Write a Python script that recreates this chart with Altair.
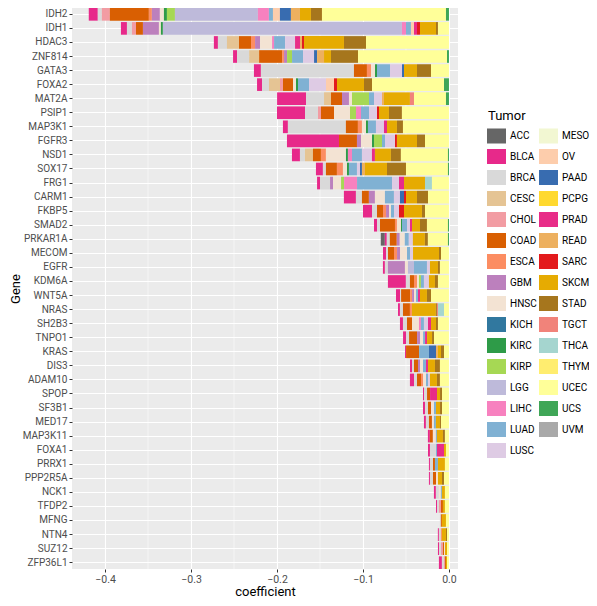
import altair as alt
import pandas as pd

# Tumor types (alphabetical = stacking order, ACC farthest from zero)
tumors = ["ACC", "BLCA", "BRCA", "CESC", "CHOL", "COAD", "ESCA", "GBM", "HNSC", "KICH",
          "KIRC", "KIRP", "LGG", "LIHC", "LUAD", "LUSC", "MESO", "OV", "PAAD", "PCPG",
          "PRAD", "READ", "SARC", "SKCM", "STAD", "TGCT", "THCA", "THYM", "UCEC", "UCS", "UVM"]
tumor_colors = ["#666666", "#E7298A", "#D9D9D9", "#E5C494", "#F29CA3", "#D95F02", "#FC8D62",
                "#BC80BD", "#F3E3D3", "#31789F", "#2E9B48", "#A6D854", "#BEBADA", "#F781BF",
                "#80B1D3", "#DECBE4", "#F2F7D2", "#FDCDAC", "#386CB0", "#FFD92F", "#E82C88",
                "#EDB05F", "#E31A1C", "#E6AB02", "#A6761D", "#F1837A", "#A5D5CF", "#FFED6F",
                "#FFFF99", "#3FA657", "#A9A9A9"]

genes = ["IDH2", "IDH1", "HDAC3", "ZNF814", "GATA3", "FOXA2", "MAT2A", "PSIP1", "MAP3K1",
         "FGFR3", "NSD1", "SOX17", "FRG1", "CARM1", "FKBP5", "SMAD2", "PRKAR1A", "MECOM",
         "EGFR", "KDM6A", "WNT5A", "NRAS", "SH2B3", "TNPO1", "KRAS", "DIS3", "ADAM10", "SPOP",
         "SF3B1", "MED17", "MAP3K11", "FOXA1", "PRRX1", "PPP2R5A", "NCK1", "TFDP2", "MFNG",
         "NTN4", "SUZ12", "ZFP36L1"]

# coefficient contributions per gene, in units of 0.001
IDH2 = [("BLCA", -10.5), ("BRCA", -4.7), ("CHOL", -9.3), ("COAD", -45.4), ("ESCA", -3.5),
        ("GBM", -9.3), ("HNSC", -4.7), ("KIRC", -3.5), ("KIRP", -9.3), ("LGG", -96.5),
        ("LIHC", -12.8), ("LUAD", -4.7), ("OV", -8.1), ("PAAD", -12.8), ("READ", -10.5),
        ("SKCM", -12.8), ("STAD", -12.8), ("UCEC", -144.2), ("UCS", -3.5)]
IDH1 = [("BLCA", -7.0), ("BRCA", -5.8), ("CHOL", -4.7), ("COAD", -8.1), ("GBM", -18.6),
        ("HNSC", -2.3), ("KIRC", -2.3), ("LGG", -278.0), ("LIHC", -4.7), ("LUAD", -5.8),
        ("OV", -3.5), ("PRAD", -3.5), ("SARC", -3.5), ("SKCM", -18.6), ("STAD", -2.3),
        ("UCEC", -12.8)]
HDAC3 = [("BLCA", -4.7), ("BRCA", -10.5), ("CESC", -14.0), ("COAD", -14.0), ("ESCA", -4.7),
         ("GBM", -5.8), ("HNSC", -14.0), ("LIHC", -2.3), ("LUAD", -12.8), ("LUSC", -11.6),
         ("PRAD", -5.8), ("READ", -2.3), ("SARC", -2.3), ("SKCM", -46.5), ("STAD", -25.6),
         ("UCEC", -96.5)]
ZNF814 = [("BLCA", -4.7), ("BRCA", -14.0), ("CESC", -11.6), ("COAD", -26.7), ("ESCA", -2.3),
          ("GBM", -3.5), ("KIRP", -5.8), ("LUAD", -12.8), ("LUSC", -12.8), ("PAAD", -3.5),
          ("READ", -8.1), ("SKCM", -8.1), ("STAD", -31.4), ("UCEC", -103.5), ("UCS", -2.3)]
GATA3 = [("BLCA", -8.1), ("BRCA", -108.2), ("COAD", -15.1), ("ESCA", -4.7), ("HNSC", -4.7),
         ("KIRC", -2.3), ("LUAD", -15.1), ("LUSC", -14.0), ("PAAD", -2.3), ("SKCM", -15.1),
         ("STAD", -16.3), ("UCEC", -20.9)]
FOXA2 = [("BLCA", -5.8), ("BRCA", -8.1), ("CESC", -12.8), ("CHOL", -3.5), ("COAD", -11.6),
         ("HNSC", -3.5), ("KIRC", -2.3), ("LUAD", -12.8), ("LUSC", -19.8), ("OV", -9.3),
         ("SARC", -3.5), ("SKCM", -31.4), ("STAD", -9.3), ("UCEC", -83.7), ("UCS", -5.8)]
MAT2A = [("BLCA", -33.7), ("BRCA", -20.9), ("CESC", -8.1), ("COAD", -12.8), ("GBM", -8.1),
         ("HNSC", -3.5), ("KIRP", -19.8), ("LUAD", -5.8), ("LUSC", -9.3), ("READ", -2.3),
         ("SKCM", -30.2), ("TGCT", -4.7), ("UCEC", -37.2), ("UCS", -3.5)]
PSIP1 = [("BLCA", -32.6), ("BRCA", -15.1), ("CHOL", -3.5), ("COAD", -15.1), ("HNSC", -18.6),
         ("KIRP", -7.0), ("LIHC", -5.8), ("LUAD", -9.3), ("LUSC", -9.3), ("SARC", -2.3),
         ("SKCM", -11.6), ("STAD", -15.1), ("UCEC", -54.7)]
MAP3K1 = [("BLCA", -5.8), ("BRCA", -67.4), ("COAD", -14.0), ("ESCA", -4.7), ("HNSC", -4.7),
          ("KIRC", -2.3), ("LUAD", -9.3), ("LUSC", -9.3), ("PRAD", -3.5), ("SKCM", -11.6),
          ("STAD", -7.0), ("UCEC", -53.5)]
FGFR3 = [("BLCA", -60.5), ("COAD", -20.9), ("GBM", -4.7), ("HNSC", -12.8), ("KIRC", -2.3),
         ("KIRP", -9.3), ("LUAD", -3.5), ("LUSC", -11.6), ("SARC", -2.3), ("SKCM", -23.3),
         ("STAD", -9.3), ("UCEC", -27.9)]
NSD1 = [("BLCA", -9.3), ("BRCA", -5.8), ("CESC", -9.3), ("COAD", -9.3), ("ESCA", -5.8),
        ("HNSC", -23.3), ("KIRC", -2.3), ("LIHC", -4.7), ("LUAD", -11.6), ("LUSC", -11.6),
        ("PRAD", -3.5), ("SKCM", -18.6), ("STAD", -11.6), ("UCEC", -54.7), ("UCS", -1.2)]
SOX17 = [("BLCA", -8.1), ("BRCA", -3.5), ("COAD", -12.8), ("ESCA", -7.0), ("HNSC", -4.7),
         ("KIRC", -2.3), ("LUAD", -9.3), ("LUSC", -3.5), ("PAAD", -2.3), ("READ", -3.5),
         ("SKCM", -25.6), ("STAD", -22.1), ("UCEC", -48.8), ("UCS", -1.2)]
FRG1 = [("BLCA", -3.5), ("BRCA", -11.6), ("GBM", -3.5), ("HNSC", -9.3), ("KIRP", -3.5),
        ("LIHC", -15.1), ("LUAD", -40.7), ("LUSC", -8.1), ("PRAD", -5.8), ("SKCM", -24.4),
        ("THCA", -8.1), ("UCEC", -19.8)]
CARM1 = [("BLCA", -14.0), ("BRCA", -7.0), ("COAD", -8.1), ("GBM", -7.0), ("HNSC", -11.6),
         ("LUAD", -10.5), ("LUSC", -7.0), ("PAAD", -4.7), ("SARC", -2.3), ("SKCM", -12.8),
         ("STAD", -12.8), ("UCEC", -24.4)]
FKBP5 = [("BLCA", -10.5), ("BRCA", -5.8), ("COAD", -7.0), ("ESCA", -3.5), ("GBM", -3.5),
         ("HNSC", -2.3), ("LUAD", -3.5), ("LUSC", -5.8), ("SARC", -5.8), ("SKCM", -20.9),
         ("STAD", -3.5), ("UCEC", -27.9)]
SMAD2 = [("BLCA", -3.5), ("BRCA", -3.5), ("COAD", -17.4), ("ESCA", -2.3), ("HNSC", -4.7),
         ("KIRC", -1.2), ("LUAD", -5.8), ("LUSC", -3.5), ("PRAD", -2.3), ("SKCM", -9.3),
         ("STAD", -8.1), ("UCEC", -24.4), ("UCS", -1.2)]
PRKAR1A = [("ACC", -4.7), ("BLCA", -2.3), ("BRCA", -3.5), ("COAD", -8.1), ("GBM", -3.5),
           ("HNSC", -5.8), ("LUAD", -4.7), ("LUSC", -4.7), ("SKCM", -14.0), ("STAD", -3.5),
           ("UCEC", -23.3), ("UCS", -1.2)]
MECOM = [("BLCA", -3.5), ("BRCA", -2.3), ("COAD", -7.0), ("ESCA", -3.5), ("GBM", -3.5),
         ("HNSC", -8.1), ("LUAD", -3.5), ("LUSC", -3.5), ("SKCM", -30.2), ("STAD", -2.3),
         ("UCEC", -9.3)]
EGFR = [("BLCA", -2.3), ("BRCA", -3.5), ("GBM", -19.8), ("HNSC", -3.5), ("LGG", -7.0),
        ("LUAD", -15.1), ("LUSC", -3.5), ("SKCM", -9.3), ("STAD", -2.3), ("UCEC", -10.5)]
KDM6A = [("BLCA", -20.9), ("BRCA", -4.7), ("COAD", -4.7), ("ESCA", -3.5), ("HNSC", -2.3),
         ("KIRP", -2.3), ("LUAD", -3.5), ("LUSC", -5.8), ("SKCM", -7.0), ("STAD", -3.5),
         ("UCEC", -12.8)]
WNT5A = [("BLCA", -4.7), ("BRCA", -1.2), ("COAD", -10.5), ("ESCA", -2.3), ("GBM", -2.3),
         ("HNSC", -2.3), ("LUAD", -2.3), ("PRAD", -2.3), ("SKCM", -8.1), ("STAD", -4.7),
         ("UCEC", -20.9)]
NRAS = [("BLCA", -2.3), ("BRCA", -3.5), ("COAD", -8.1), ("ESCA", -2.3), ("SKCM", -27.9),
        ("STAD", -1.2), ("TGCT", -1.2), ("THCA", -7.0), ("UCEC", -5.8)]
SH2B3 = [("BLCA", -3.5), ("BRCA", -4.7), ("COAD", -5.8), ("HNSC", -8.1), ("LIHC", -2.3),
         ("LUAD", -3.5), ("LUSC", -4.7), ("PRAD", -3.5), ("SKCM", -5.8), ("STAD", -2.3),
         ("UCEC", -12.8)]
TNPO1 = [("BLCA", -3.5), ("BRCA", -3.5), ("COAD", -9.3), ("GBM", -3.5), ("HNSC", -3.5),
         ("LUAD", -2.3), ("PRAD", -2.3), ("SKCM", -5.8), ("STAD", -2.3), ("UCEC", -17.4)]
KRAS = [("BLCA", -1.2), ("COAD", -15.1), ("LUAD", -11.6), ("PAAD", -8.1), ("READ", -2.3),
        ("SKCM", -3.5), ("STAD", -3.5), ("UCEC", -5.8)]
DIS3 = [("BLCA", -2.3), ("BRCA", -2.3), ("COAD", -4.7), ("GBM", -2.3), ("HNSC", -3.5),
        ("LUAD", -3.5), ("PRAD", -2.3), ("SKCM", -8.1), ("STAD", -5.8), ("UCEC", -10.5)]
ADAM10 = [("BLCA", -4.7), ("BRCA", -3.5), ("COAD", -4.7), ("ESCA", -2.3), ("HNSC", -3.5),
          ("LUAD", -2.3), ("LUSC", -2.3), ("SKCM", -8.1), ("STAD", -3.5), ("UCEC", -10.5)]
SPOP = [("BLCA", -1.2), ("BRCA", -3.5), ("COAD", -3.5), ("PRAD", -8.1), ("SKCM", -3.5),
        ("STAD", -2.3), ("UCEC", -8.1)]
SF3B1 = [("BLCA", -2.3), ("BRCA", -3.5), ("COAD", -3.5), ("HNSC", -3.5), ("LUAD", -2.3),
         ("SKCM", -4.7), ("STAD", -2.3), ("UCEC", -8.1)]
MED17 = [("BLCA", -2.3), ("BRCA", -3.5), ("COAD", -3.5), ("HNSC", -2.3), ("LUAD", -2.3),
         ("SKCM", -4.7), ("STAD", -1.2), ("UCEC", -9.3)]
MAP3K11 = [("BLCA", -2.3), ("COAD", -3.5), ("HNSC", -3.5), ("LUAD", -1.2), ("SKCM", -7.0),
           ("STAD", -2.3), ("UCEC", -4.7)]
FOXA1 = [("BLCA", -2.3), ("BRCA", -7.0), ("LUAD", -1.2), ("PRAD", -8.1), ("SKCM", -2.3),
         ("UCEC", -3.5)]
PRRX1 = [("BLCA", -1.2), ("BRCA", -3.5), ("COAD", -2.3), ("LUAD", -3.5), ("SKCM", -8.1),
         ("UCEC", -4.7)]
PPP2R5A = [("BLCA", -1.2), ("BRCA", -3.5), ("COAD", -3.5), ("HNSC", -2.3), ("SKCM", -4.7),
           ("STAD", -2.3), ("UCEC", -5.8)]
NCK1 = [("BLCA", -2.3), ("BRCA", -3.5), ("HNSC", -2.3), ("LUAD", -1.2), ("SKCM", -3.5),
        ("UCEC", -4.7)]
TFDP2 = [("BLCA", -1.2), ("BRCA", -2.3), ("CHOL", -2.3), ("COAD", -2.3), ("SKCM", -2.3),
         ("UCEC", -4.7)]
MFNG = [("BRCA", -1.2), ("COAD", -1.2), ("SKCM", -4.7), ("UCEC", -3.5)]
NTN4 = [("BLCA", -1.2), ("BRCA", -2.3), ("ESCA", -1.2), ("SKCM", -4.7), ("STAD", -1.2),
        ("UCEC", -2.3)]
SUZ12 = [("BLCA", -1.2), ("BRCA", -2.3), ("CHOL", -2.3), ("COAD", -1.2), ("HNSC", -1.2),
         ("SKCM", -2.3), ("UCEC", -2.3)]
ZFP36L1 = [("BLCA", -3.5), ("BRCA", -2.3), ("CHOL", -1.2), ("COAD", -1.2), ("SKCM", -1.2),
           ("UCEC", -2.3)]

gene_parts = [IDH2, IDH1, HDAC3, ZNF814, GATA3, FOXA2, MAT2A, PSIP1, MAP3K1, FGFR3, NSD1,
              SOX17, FRG1, CARM1, FKBP5, SMAD2, PRKAR1A, MECOM, EGFR, KDM6A, WNT5A, NRAS,
              SH2B3, TNPO1, KRAS, DIS3, ADAM10, SPOP, SF3B1, MED17, MAP3K11, FOXA1, PRRX1,
              PPP2R5A, NCK1, TFDP2, MFNG, NTN4, SUZ12, ZFP36L1]

x_ticks = [-0.4, -0.3, -0.2, -0.1, 0.0]
x_minor = [-0.35, -0.25, -0.15, -0.05]

rows = []
for g, parts in zip(genes, gene_parts):
    for t, v in parts:
        rows.append({"gene": g, "tumor": t, "coefficient": v / 1000.0,
                     "rank": tumors.index(t)})
df = pd.DataFrame(rows)

FONT = "Roboto"
XDOM = [-0.4384, 0.0105]

minor = alt.Chart(pd.DataFrame({"m": x_minor})).mark_rule(
    color="white", strokeWidth=0.5
).encode(x=alt.X("m:Q", scale=alt.Scale(domain=XDOM, nice=False, zero=False)))

bars = alt.Chart(df).mark_bar().encode(
    x=alt.X("coefficient:Q", stack="zero",
            scale=alt.Scale(domain=XDOM, nice=False, zero=False),
            axis=alt.Axis(values=x_ticks, format=".1f", title="coefficient", grid=True,
                          gridColor="white", gridWidth=1.1, domain=False,
                          tickColor="#333333", tickSize=3, tickWidth=1,
                          labelColor="#4D4D4D", labelFontSize=10.5, labelFont=FONT,
                          labelPadding=2, titleFont=FONT, titleFontSize=13,
                          titleFontWeight="normal", titleColor="#000000", titlePadding=1)),
    y=alt.Y("gene:N", sort=genes,
            scale=alt.Scale(paddingInner=0.1, paddingOuter=0.0),
            axis=alt.Axis(title="Gene", grid=True, gridColor="white", gridWidth=1.1,
                          bandPosition=0.5, domain=False, tickColor="#333333", tickSize=3,
                          tickWidth=1, labelColor="#4D4D4D", labelFontSize=10,
                          labelFont=FONT, labelPadding=2, titleFont=FONT, titleFontSize=13,
                          titleFontWeight="normal", titleColor="#000000", titlePadding=0)),
    color=alt.Color("tumor:N",
                    scale=alt.Scale(domain=tumors, range=tumor_colors),
                    legend=alt.Legend(title=None, orient="none", legendX=415, legendY=118,
                                      columns=2, symbolLimit=40,
                                      symbolType="M-1,-0.79H1V0.79H-1Z",
                                      symbolSize=361, symbolStrokeWidth=0,
                                      labelFont=FONT, labelFontSize=10, labelColor="#000000",
                                      labelOffset=4, rowPadding=3, columnPadding=2,
                                      padding=0)),
    order=alt.Order("rank:Q", sort="descending"),
)

legend_title = alt.Chart(pd.DataFrame({"t": ["Tumor"]})).mark_text(
    align="left", baseline="middle", font=FONT, fontSize=13, color="#000000"
).encode(text="t:N", x=alt.value(416), y=alt.value(108))

chart = alt.layer(minor, bars, legend_title).properties(
    width=386, height=561,
    padding={"left": 64, "top": 0, "right": 131, "bottom": 29},
    autosize=alt.AutoSizeParams(type="none"),
).configure(background="white").configure_view(fill="#EBEBEB", strokeWidth=0)

chart.save("out.html", embed_options={"renderer": "svg", "actions": False})
